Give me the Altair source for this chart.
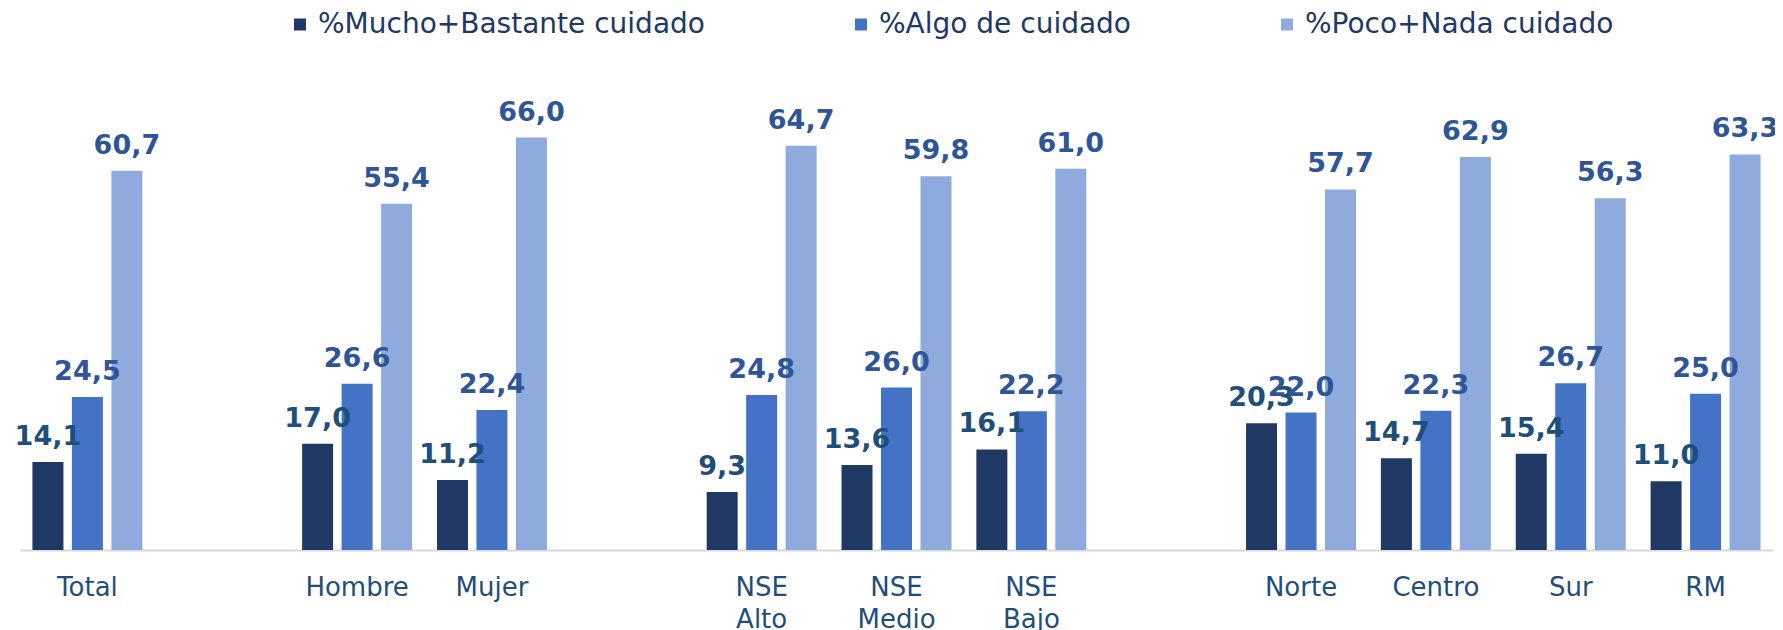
import altair as alt
import pandas as pd

categories = ["Total", "_1", "Hombre", "Mujer", "_2", "NSE Alto", "NSE Medio", "NSE Bajo",
              "_3", "Norte", "Centro", "Sur", "RM"]
groups = ["Total", "Hombre", "Mujer", "NSE Alto", "NSE Medio", "NSE Bajo",
          "Norte", "Centro", "Sur", "RM"]
series = ["%Mucho+Bastante cuidado", "%Algo de cuidado", "%Poco+Nada cuidado"]
mucho = [14.1, 17.0, 11.2, 9.3, 13.6, 16.1, 20.3, 14.7, 15.4, 11.0]
algo = [24.5, 26.6, 22.4, 24.8, 26.0, 22.2, 22.0, 22.3, 26.7, 25.0]
poco = [60.7, 55.4, 66.0, 64.7, 59.8, 61.0, 57.7, 62.9, 56.3, 63.3]

bar_colors = ["#203864", "#4472C4", "#8FAADC"]
label_colors = ["#1F4E79", "#2F5597", "#2F5597"]

rows = []
for s, vals in zip(series, [mucho, algo, poco]):
    for g, v in zip(groups, vals):
        rows.append({"cat": g, "serie": s, "valor": v})
df = pd.DataFrame(rows)

FONT = "DejaVu Sans"

x_enc = alt.X("cat:N", scale=alt.Scale(domain=categories, paddingInner=0, paddingOuter=0),
              sort=categories,
              axis=alt.Axis(title=None, labelExpr="indexof(datum.value, '_') == 0 ? '' : split(datum.value, ' ')",
                            labelAngle=0, ticks=False, tickSize=0, labelPadding=24,
                            labelFontSize=26, labelFont=FONT, labelColor="#1F4E79",
                            labelLineHeight=32, domainColor="#D9D9D9", domainWidth=2,
                            grid=False, labelOverlap=False))
xo_enc = alt.XOffset("serie:N", sort=series,
                     scale=alt.Scale(domain=series, paddingInner=0.215, paddingOuter=0.315))
y_enc = alt.Y("valor:Q", scale=alt.Scale(domain=[0, 70]), axis=None)

base = alt.Chart(df).encode(x=x_enc, xOffset=xo_enc, y=y_enc)

bars = base.mark_bar().encode(
    color=alt.Color("serie:N", sort=series,
                    scale=alt.Scale(domain=series, range=bar_colors),
                    legend=alt.Legend(title=None, orient="none", direction="horizontal",
                                      legendX=266, legendY=-102, symbolType="square",
                                      symbolSize=144, symbolStrokeWidth=0,
                                      labelFontSize=28, labelFont=FONT, labelColor="#203864",
                                      labelOffset=4, columnPadding=142, padding=0,
                                      labelLimit=600))
)

labels = base.transform_calculate(
    lbl="replace(format(datum.valor, '.1f'), '.', ',')"
).mark_text(baseline="alphabetic", dy=-17, fontSize=27, fontWeight="bold", font=FONT).encode(
    text="lbl:N",
    color=alt.Color("serie:N", sort=series,
                    scale=alt.Scale(domain=series, range=label_colors), legend=None)
)

chart = alt.layer(bars, labels).resolve_scale(color="independent").properties(
    width=1753, height=437.5,
    autosize=alt.AutoSizeParams(type="none"),
    padding={"left": 12, "top": 104.5, "right": 2, "bottom": 80},
).configure_view(stroke=None)

chart.save("out.html", embed_options={"renderer": "svg", "actions": False})
